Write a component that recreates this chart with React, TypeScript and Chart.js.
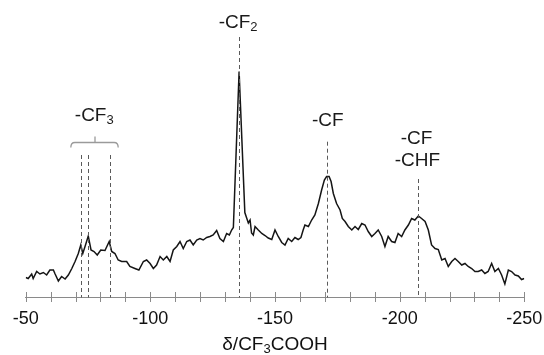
import React, { useEffect, useRef } from "react";
import { Chart, registerables } from "chart.js";

Chart.register(...registerables);

// ---- data (chemical shift in ppm vs. CF3COOH, intensity in arbitrary units) ----
const shifts = [
  -50.0, -51.0, -52.4, -53.0, -54.4, -55.7, -57.1, -58.4, -59.7, -61.1, -61.8, -63.1, -64.4, -65.8, -67.1,
  -68.5, -69.8, -71.1, -72.1, -72.9, -73.8, -75.1, -76.2, -77.4, -78.7, -80.1, -81.8, -83.5, -84.5, -85.8,
  -87.1, -88.5, -90.5, -91.8, -93.8, -95.4, -97.2, -98.5, -99.9, -101.2, -102.5, -103.9, -105.2, -106.6,
  -107.9, -109.2, -110.6, -111.9, -113.2, -114.6, -115.9, -117.2, -118.6, -119.9, -121.2, -122.6, -123.9,
  -125.2, -126.6, -127.9, -129.3, -130.6, -131.7, -132.6, -133.3, -135.6, -137.9, -138.7, -139.3, -140.0,
  -140.6, -141.3, -142.0, -143.3, -144.7, -146.0, -147.3, -148.7, -150.0, -151.3, -152.7, -154.0, -155.3,
  -156.7, -158.0, -159.3, -160.4, -161.3, -162.0, -163.4, -164.7, -166.0, -167.4, -168.7, -169.8, -170.7,
  -171.7, -172.5, -173.4, -174.7, -176.1, -177.0, -178.1, -179.4, -180.8, -182.1, -183.4, -184.8, -186.1,
  -187.4, -188.8, -190.1, -191.4, -192.8, -194.1, -195.4, -196.8, -198.1, -199.4, -200.8, -202.1, -203.5,
  -204.8, -206.1, -207.5, -208.8, -210.2, -211.5, -212.8, -214.2, -215.5, -216.9, -218.2, -219.5, -220.9,
  -222.2, -223.5, -224.9, -226.2, -227.5, -228.9, -230.2, -231.5, -232.9, -234.2, -235.5, -236.9, -238.2,
  -239.6, -240.9, -242.2, -243.6, -244.9, -246.3, -247.6, -248.9, -250.0,
];
const intensities = [
  20, 19, 23.5, 19, 26, 23.5, 25, 22.5, 27.5, 27.5, 23.5, 16.5, 21, 18.5, 22.5,
  29, 36, 44, 52.5, 44, 51, 61.5, 47.5, 46, 42.5, 47.5, 47, 56, 46, 44,
  37.5, 36, 36, 31, 29, 27.5, 36, 37.5, 34, 29, 32.5, 41, 37.5, 41,
  36, 47.5, 51, 56, 49, 56, 57.5, 52.5, 57.5, 59, 57.5, 60, 61,
  62.5, 67, 59, 56, 64, 62.5, 67.5, 70, 226, 85, 79, 74.5, 77.5,
  64.5, 62.5, 71, 67.5, 64, 62, 59.5, 58, 67.5, 61, 55, 52.5, 59,
  56, 60, 58, 60, 67.5, 72.5, 71, 77.5, 82.5, 94, 107.5, 117.5, 121,
  121, 116, 104, 94, 87.5, 79, 76, 71, 67.5, 71, 68, 74, 72.5,
  66, 61, 64, 67.5, 61, 51, 61, 56, 55, 64, 61, 67.5, 72.5,
  79, 77.5, 81.5, 79, 76, 67.5, 52.5, 49, 48, 37.5, 39, 31, 36,
  39, 36, 32.5, 34, 31, 29, 26, 26, 27.5, 24, 26, 34, 26,
  29, 22.5, 13.5, 27.5, 26, 22.5, 21.5, 18, 19,
];

// tick values
const axisMin = -250;
const axisMax = -50;
const minorStep = 10;
const labelStep = 50;

// dashed peak markers: position (ppm) and top (intensity)
const markerShifts = [-72.1, -75.1, -83.7, -135.4, -171.0, -207.3];
const markerTops = [142.5, 142.5, 142.5, 260.5, 155.8, 118.5];

// peak assignments
const labelMain = ["-CF", "-CF", "-CF", "-CF", "-CHF"];
const labelSub = ["3", "2", "", "", ""];
const labelShifts = [-77.5, -135.2, -171.2, -206.8, -207.1];
const labelHeights = [176.8, 269.2, 171.5, 153.2, 131.8];

// bracket grouping the -CF3 markers: [start, middle, end] ppm
const bracketShifts = [-68.1, -77.8, -87.1];
const bracketHeight = 155.8;

const titleMain = "δ/CF";
const titleSub = "3";
const titleTail = "COOH";

const FONT = '"Liberation Sans", Arial, Helvetica, sans-serif';

function drawParts(
  ctx: CanvasRenderingContext2D,
  cx: number,
  baseline: number,
  parts: { t: string; sub: boolean }[],
  size: number,
  subSize: number,
  subDy: number,
  color: string
) {
  ctx.save();
  ctx.fillStyle = color;
  ctx.textBaseline = "alphabetic";
  ctx.textAlign = "left";
  let total = 0;
  const widths = parts.map((p) => {
    ctx.font = `${p.sub ? subSize : size}px ${FONT}`;
    const w = ctx.measureText(p.t).width;
    total += w;
    return w;
  });
  let x = cx - total / 2;
  parts.forEach((p, i) => {
    ctx.font = `${p.sub ? subSize : size}px ${FONT}`;
    ctx.fillText(p.t, x, baseline + (p.sub ? subDy : 0));
    x += widths[i];
  });
  ctx.restore();
}

const overlayPlugin = {
  id: "nmrOverlay",
  afterDatasetsDraw(chart: any) {
    const { ctx, scales } = chart;
    const x = scales.x;
    const y = scales.y;
    ctx.save();
    // dashed markers
    ctx.strokeStyle = "#5a5a5a";
    ctx.lineWidth = 1;
    ctx.setLineDash([4, 3]);
    markerShifts.forEach((s, i) => {
      const px = Math.round(x.getPixelForValue(s)) + 0.5;
      ctx.beginPath();
      ctx.moveTo(px, y.getPixelForValue(markerTops[i]));
      ctx.lineTo(px, y.getPixelForValue(0));
      ctx.stroke();
    });
    ctx.setLineDash([]);

    // bracket
    const bx1 = x.getPixelForValue(bracketShifts[0]);
    const bxm = x.getPixelForValue(bracketShifts[1]);
    const bx2 = x.getPixelForValue(bracketShifts[2]);
    const by = Math.round(y.getPixelForValue(bracketHeight)) + 0.5;
    ctx.strokeStyle = "#9a9a9a";
    ctx.lineWidth = 1.3;
    ctx.beginPath();
    ctx.moveTo(bx1, by + 5);
    ctx.quadraticCurveTo(bx1, by, bx1 + 4, by);
    ctx.lineTo(bx2 - 4, by);
    ctx.quadraticCurveTo(bx2, by, bx2, by + 5);
    ctx.moveTo(bxm, by);
    ctx.lineTo(bxm, by - 6);
    ctx.stroke();

    // labels
    labelMain.forEach((m, i) => {
      const parts = [{ t: m, sub: false }];
      if (labelSub[i]) parts.push({ t: labelSub[i], sub: true });
      drawParts(
        ctx,
        x.getPixelForValue(labelShifts[i]),
        y.getPixelForValue(labelHeights[i]),
        parts,
        19,
        13,
        3,
        "#1a1a1a"
      );
    });
    ctx.restore();
  },
  afterDraw(chart: any) {
    const { ctx, chartArea, scales } = chart;
    const x = scales.x;
    ctx.save();
    // tick marks crossing the axis line
    ctx.strokeStyle = "#8a8a8a";
    ctx.lineWidth = 1;
    x.ticks.forEach((_t: any, i: number) => {
      const px = Math.round(x.getPixelForTick(i)) + 0.5;
      ctx.beginPath();
      ctx.moveTo(px, chartArea.bottom - 5.5);
      ctx.lineTo(px, chartArea.bottom + 4.5);
      ctx.stroke();
    });
    ctx.restore();
    // axis title with subscript
    drawParts(
      ctx,
      (chartArea.left + chartArea.right) / 2,
      350,
      [
        { t: titleMain, sub: false },
        { t: titleSub, sub: true },
        { t: titleTail, sub: false },
      ],
      19,
      13,
      3,
      "#111"
    );
  },
};

export default function App() {
  const ref = useRef<HTMLCanvasElement | null>(null);

  useEffect(() => {
    document.body.style.margin = "0";
    const canvas = ref.current;
    if (!canvas) return;
    const points = shifts.map((s, i) => ({ x: s, y: intensities[i] }));
    const chart = new Chart(canvas, {
      type: "line",
      data: {
        datasets: [
          {
            data: points,
            borderColor: "#151515",
            borderWidth: 1.5,
            pointRadius: 0,
            tension: 0,
            fill: false,
          },
        ],
      },
      options: {
        animation: false,
        responsive: false,
        devicePixelRatio: 1,
        layout: { padding: { left: 25.7, right: 19.7, top: 0, bottom: 25.3 } },
        plugins: {
          legend: { display: false },
          tooltip: { enabled: false },
          title: { display: false },
        },
        scales: {
          x: {
            type: "linear",
            min: axisMin,
            max: axisMax,
            reverse: true,
            border: { display: true, color: "#8a8a8a", width: 1 },
            grid: {
              display: true,
              drawOnChartArea: false,
              drawTicks: true,
              tickLength: 10.6,
              tickColor: "rgba(0,0,0,0)",
              color: "#8a8a8a",
              lineWidth: 1,
            },
            ticks: {
              stepSize: minorStep,
              autoSkip: false,
              maxTicksLimit: 100,
              maxRotation: 0,
              minRotation: 0,
              padding: 0,
              color: "#111",
              font: { family: FONT, size: 18 },
              callback: (v: any) => (Number(v) % labelStep === 0 ? String(v) : ""),
            },
          },
          y: {
            type: "linear",
            display: false,
            min: 0,
            max: 297.5,
          },
        },
      },
      plugins: [overlayPlugin],
    });
    return () => chart.destroy();
  }, []);

  return (
    <canvas
      ref={ref}
      width={544}
      height={355}
      style={{ display: "block", width: 544, height: 355 }}
    />
  );
}
